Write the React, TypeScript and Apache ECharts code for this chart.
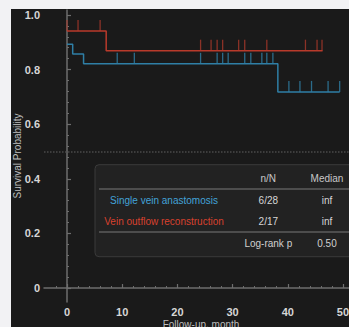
import React, { useEffect, useRef } from "react";
import * as echarts from "echarts";

// Kaplan–Meier step curves (time in months, survival probability)
const singleVeinCurve: [number, number][] = [
  [0, 0.893],
  [1.03, 0.857],
  [3.0, 0.821],
  [38.2, 0.718],
  [49.4, 0.718],
];
const outflowCurve: [number, number][] = [
  [0, 0.941],
  [7.1, 0.869],
  [46.3, 0.869],
];
// censor marks
const singleVeinCensored: [number, number][] = [
  [9.1, 0.821], [12.2, 0.821], [24.2, 0.821], [27.2, 0.821], [28.2, 0.821],
  [29.2, 0.821], [32.2, 0.821], [33.3, 0.821], [35.3, 0.821], [36.2, 0.821],
  [37.3, 0.821], [40.2, 0.718], [42.2, 0.718], [44.3, 0.718], [47.3, 0.718],
  [49.4, 0.718],
];
const outflowCensored: [number, number][] = [
  [0, 0.941], [2.0, 0.941], [6.0, 0.941], [24.2, 0.869], [26.1, 0.869],
  [27.2, 0.869], [28.2, 0.869], [31.1, 0.869], [32.2, 0.869], [36.2, 0.869],
  [43.2, 0.869], [45.3, 0.869], [46.2, 0.869],
];

const xTicks = [0, 10, 20, 30, 40, 50];
const xMinorTicks = [-2, 2, 4, 6, 8, 12, 14, 16, 18, 22, 24, 26, 28, 32, 34, 36, 38, 42, 44, 46, 48, 52];
const yTicks = [0, 0.2, 0.4, 0.6, 0.8, 1.0];
const yMinorTicks = [0.04, 0.08, 0.12, 0.16, 0.24, 0.28, 0.32, 0.36, 0.44, 0.48, 0.52, 0.56, 0.64, 0.68, 0.72, 0.76, 0.84, 0.88, 0.92, 0.96];

const tableHeader = ["n/N", "Median"];
const groupNames = ["Single vein anastomosis", "Vein outflow reconstruction"];
const groupNN = ["6/28", "2/17"];
const groupMedian = ["inf", "inf"];
const logRankLabel = "Log-rank p";
const logRankP = "0.50";

const BLUE = "#2f7fa6";
const RED = "#b93a2b";
const BLUE_TEXT = "#43a3d8";
const RED_TEXT = "#d8412e";
const FONT = "Liberation Sans, Arial, sans-serif";

export default function App() {
  const ref = useRef<HTMLDivElement>(null);
  useEffect(() => {
    if (!ref.current) return;
    const chart = echarts.init(ref.current, null, { renderer: "svg" });
    const xMin = -4.167;
    const xMax = 52.72;
    const yMin = -0.0513;
    const yMax = 1.018;
    const axisColor = "#6e6e6e";
    const labelStyle = { color: "#d6d6d6", fontSize: 11, fontFamily: FONT, fontWeight: "bold" as const };

    const colN = 257.3;
    const colM = 316;
    const nameX = 153;
    const rows = [191.7, 212];

    const graphic: any[] = [
      {
        type: "rect",
        shape: { x: 84, y: 155.7, width: 320, height: 92, r: 4 },
        style: { fill: "#222222", stroke: "#3b3b3b", lineWidth: 1 },
        z: 10,
      },
      { type: "line", shape: { x1: 88, y1: 180, x2: 400, y2: 180 }, style: { stroke: "#5c5c5c", lineWidth: 1.5 }, z: 11 },
      { type: "line", shape: { x1: 88, y1: 223, x2: 400, y2: 223 }, style: { stroke: "#5c5c5c", lineWidth: 1.5 }, z: 11 },
      {
        type: "text", x: colN, y: 169.3, z: 12,
        style: { text: tableHeader[0], fill: "#c8c8c8", font: `10px ${FONT}`, textAlign: "center", textVerticalAlign: "middle" },
      },
      {
        type: "text", x: colM, y: 169.3, z: 12,
        style: { text: tableHeader[1], fill: "#c8c8c8", font: `10px ${FONT}`, textAlign: "center", textVerticalAlign: "middle" },
      },
      {
        type: "text", x: colN, y: 234.3, z: 12,
        style: { text: logRankLabel, fill: "#d0d0d0", font: `10px ${FONT}`, textAlign: "center", textVerticalAlign: "middle" },
      },
      {
        type: "text", x: colM, y: 234.3, z: 12,
        style: { text: logRankP, fill: "#d0d0d0", font: `10px ${FONT}`, textAlign: "center", textVerticalAlign: "middle" },
      },
      {
        type: "text", x: 6, y: 147, rotation: Math.PI / 2, z: 12,
        style: { text: "Survival Probability", fill: "#bdbdbd", font: `10px ${FONT}`, textAlign: "center", textVerticalAlign: "middle" },
      },
      {
        type: "text", x: 190, y: 315, z: 12,
        style: { text: "Follow-up, month", fill: "#bdbdbd", font: `10px ${FONT}`, textAlign: "center", textVerticalAlign: "middle" },
      },
    ];
    groupNames.forEach((name, i) => {
      const col = i === 0 ? BLUE_TEXT : RED_TEXT;
      graphic.push({
        type: "text", x: nameX, y: rows[i], z: 12,
        style: { text: name, fill: col, font: `10px ${FONT}`, textAlign: "center", textVerticalAlign: "middle" },
      });
      graphic.push({
        type: "text", x: colN, y: rows[i], z: 12,
        style: { text: groupNN[i], fill: "#d6d6d6", font: `10px ${FONT}`, textAlign: "center", textVerticalAlign: "middle" },
      });
      graphic.push({
        type: "text", x: colM, y: rows[i], z: 12,
        style: { text: groupMedian[i], fill: "#d6d6d6", font: `10px ${FONT}`, textAlign: "center", textVerticalAlign: "middle" },
      });
    });

    chart.setOption({
      animation: false,
      backgroundColor: "#1a1a1a",
      grid: { left: 33, top: 1, width: 314, height: 292 },
      xAxis: [
        {
          type: "value", min: xMin, max: xMax, position: "bottom",
          axisLine: { show: true, lineStyle: { color: axisColor, width: 1.5 } },
          axisTick: { show: true, inside: true, length: 4, customValues: xTicks, lineStyle: { color: axisColor, width: 1.2 } },
          axisLabel: { customValues: xTicks, margin: 4, ...labelStyle, formatter: (v: number) => String(v) },
          splitLine: { show: false },
        },
        {
          type: "value", min: xMin, max: xMax, position: "bottom",
          axisLine: { show: false },
          axisTick: { show: true, inside: true, length: 2, customValues: xMinorTicks, lineStyle: { color: axisColor, width: 1 } },
          axisLabel: { show: false },
          splitLine: { show: false },
        },
      ],
      yAxis: [
        {
          type: "value", min: yMin, max: yMax, position: "left",
          axisLine: { show: true, lineStyle: { color: axisColor, width: 1.5 } },
          axisTick: { show: true, inside: true, length: 4, customValues: yTicks, lineStyle: { color: axisColor, width: 1.2 } },
          axisLabel: {
            customValues: yTicks, margin: 4, ...labelStyle,
            formatter: (v: number) => (Math.abs(v) < 1e-9 ? "0" : v.toFixed(1)),
          },
          splitLine: { show: false },
        },
        {
          type: "value", min: yMin, max: yMax, position: "left",
          axisLine: { show: false },
          axisTick: { show: true, inside: true, length: 2, customValues: yMinorTicks, lineStyle: { color: axisColor, width: 1 } },
          axisLabel: { show: false },
          splitLine: { show: false },
        },
      ],
      series: [
        {
          type: "line", name: groupNames[0], data: singleVeinCurve, step: "end",
          showSymbol: false, lineStyle: { color: BLUE, width: 1.5 }, itemStyle: { color: BLUE },
          markLine: {
            silent: true, symbol: "none", label: { show: false },
            lineStyle: { color: "#4a4a4a", type: "dotted", width: 1.5 },
            data: [{ yAxis: 0.5 }],
          },
          z: 3,
        },
        {
          type: "line", name: groupNames[1], data: outflowCurve, step: "end",
          showSymbol: false, lineStyle: { color: RED, width: 1.5 }, itemStyle: { color: RED },
          z: 3,
        },
        {
          type: "scatter", data: singleVeinCensored, symbol: "rect", symbolSize: [1.3, 11],
          symbolOffset: [0, -5.5], itemStyle: { color: BLUE }, z: 2,
        },
        {
          type: "scatter", data: outflowCensored, symbol: "rect", symbolSize: [1.3, 11],
          symbolOffset: [0, -5.5], itemStyle: { color: "#a8382a" }, z: 2,
        },
      ],
      graphic,
    });
    return () => chart.dispose();
  }, []);

  return (
    <div style={{ position: "fixed", left: 0, top: 0, width: 349, height: 327, overflow: "hidden", background: "#f2f2f4" }}>
      <div ref={ref} style={{ position: "absolute", left: 11, top: 9, width: 400, height: 330 }} />
    </div>
  );
}
